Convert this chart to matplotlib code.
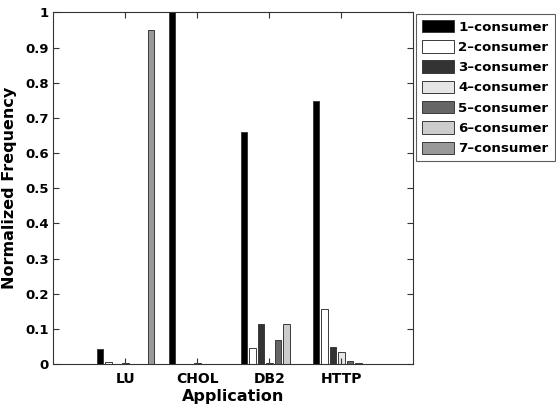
import numpy as np
import matplotlib
matplotlib.use("Agg")
import matplotlib.pyplot as plt

plt.rcParams['font.family'] = ['DejaVu Sans']
plt.rcParams['font.weight'] = 'bold'

# data
apps = ["LU", "CHOL", "DB2", "HTTP"]
series = ["1–consumer", "2–consumer", "3–consumer", "4–consumer",
          "5–consumer", "6–consumer", "7–consumer"]
c1 = [0.042, 1.000, 0.661, 0.749]
c2 = [0.006, 0.000, 0.045, 0.156]
c3 = [0.000, 0.000, 0.115, 0.048]
c4 = [0.003, 0.003, 0.003, 0.035]
c5 = [0.000, 0.000, 0.068, 0.008]
c6 = [0.000, 0.000, 0.115, 0.003]
c7 = [0.951, 0.000, 0.000, 0.000]
values = [c1, c2, c3, c4, c5, c6, c7]
colors = ["#000000", "#ffffff", "#333333", "#e6e6e6", "#666666", "#cccccc", "#999999"]

fig = plt.figure(figsize=(5.56, 4.07), dpi=100)
ax = fig.add_axes([0.0962, 0.1057, 0.6475, 0.8636])

x = np.arange(1, len(apps) + 1)
n = len(series)
slot = n / (n + 1.5) / n
for i in range(n):
    off = (i - (n - 1) / 2) * slot
    ax.bar(x + off, values[i], width=slot * 0.8, color=colors[i],
           edgecolor="#3a3a3a", linewidth=0.7, label=series[i])

ax.set_xlim(0, 5)
ax.set_ylim(0, 1)
ax.set_xticks(x)
ax.set_xticklabels(apps, fontsize=10, fontweight='bold')
yt = np.round(np.arange(0, 1.01, 0.1), 1)
ax.set_yticks(yt)
ax.set_yticklabels(["0" if v == 0 else ("1" if v == 1 else f"{v:g}") for v in yt],
                   fontsize=9.5, fontweight='bold')
ax.tick_params(direction='in', length=4, top=True, right=True, width=0.8, color="#333333")
ax.tick_params(axis='x', pad=6)
for s in ax.spines.values():
    s.set_color("#333333")
    s.set_linewidth(0.8)

ax.set_xlabel("Application", fontsize=11.5, fontweight='bold', labelpad=2)
ax.set_ylabel("Normalized Frequency", fontsize=11.5, fontweight='bold', labelpad=6)

leg = ax.legend(loc='upper left', bbox_to_anchor=(1.008, 0.996), fontsize=9.6,
                frameon=True, fancybox=False, handlelength=2.4, handleheight=1.05,
                handletextpad=0.3, labelspacing=0.49, borderpad=0.45, borderaxespad=0)
leg.get_frame().set_edgecolor("#333333")
leg.get_frame().set_linewidth(0.8)

plt.savefig("out.png", dpi=100)
